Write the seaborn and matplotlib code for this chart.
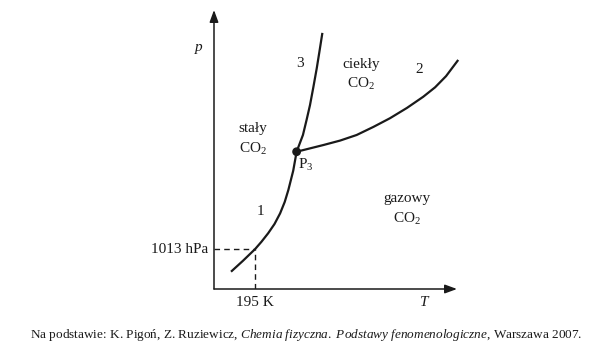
import matplotlib
matplotlib.use("Agg")
import matplotlib.pyplot as plt
import seaborn as sns
import pandas as pd

# ---- data (schematic units, 0-100 on both axes) ----
sub_T = [7.0, 11.9, 16.9, 19.5, 22.3, 24.9, 27.2, 29.1, 30.6, 32.6, 34.0]
sub_p = [6.2, 10.1, 14.3, 16.9, 20.0, 23.3, 27.1, 31.2, 35.5, 42.4, 49.2]

melt_T = [34.0, 36.6, 38.1, 39.5, 40.9, 42.3, 43.5, 44.6]
melt_p = [49.2, 55.2, 60.6, 65.9, 72.4, 79.2, 85.7, 91.8]

vap_T = [34.0, 45.0, 51.9, 58.7, 65.6, 72.4, 79.4, 86.1, 91.0, 95.5, 100.5]
vap_p = [49.2, 51.6, 53.2, 55.2, 58.1, 61.2, 64.9, 68.9, 72.3, 76.3, 82.1]

triple_T = [34.0]
triple_p = [49.2]

ref_T = 16.9
ref_p = 14.3

sns.set_theme(style="white")
plt.rcParams['font.family'] = ['Liberation Serif', 'DejaVu Serif']
plt.rcParams['mathtext.fontset'] = 'custom'
plt.rcParams['mathtext.rm'] = 'Liberation Serif'
plt.rcParams['mathtext.it'] = 'Liberation Serif:italic'

fig = plt.figure(figsize=(6.0, 3.53), dpi=100)
ax = fig.add_axes([214/600, 64/353, 243/600, 279/353])
ax.set_xlim(0, 100)
ax.set_ylim(0, 100)
ax.axis('off')

lw = 1.6
for T, p in [(sub_T, sub_p), (melt_T, melt_p), (vap_T, vap_p)]:
    df = pd.DataFrame({'T': T, 'p': p})
    sns.lineplot(data=df, x='T', y='p', sort=False, estimator=None,
                 color='#1a1a1a', linewidth=lw, ax=ax, clip_on=False,
                 solid_joinstyle='round', solid_capstyle='butt')

sns.scatterplot(x=triple_T, y=triple_p, color='#1a1a1a', s=40, ax=ax,
                edgecolor='none', zorder=5, clip_on=False)

# dashed reference lines
ax.plot([0, ref_T], [ref_p, ref_p], color='#1a1a1a', lw=1.0, ls=(0, (4, 3)))
ax.plot([ref_T, ref_T], [0, ref_p], color='#1a1a1a', lw=1.0, ls=(0, (4, 3)))

# axes arrows
arr = dict(arrowstyle='-|>,head_length=0.6,head_width=0.22', color='#1a1a1a', lw=1.1,
           shrinkA=0, shrinkB=0)
ax.annotate('', xy=(0, 1), xytext=(0, 0), xycoords='axes fraction', arrowprops=arr)
ax.annotate('', xy=(1, 0), xytext=(0, 0), xycoords='axes fraction', arrowprops=arr)

fs = 11
tc = '#1a1a1a'
kw = dict(fontsize=fs, color=tc, ha='center', va='center', clip_on=False)
ax.text(-6.2, 86.7, 'p', fontstyle='italic', **kw)
ax.text(86.4, -5.0, 'T', fontstyle='italic', **kw)
ax.text(ref_T, -5.0, '195 K', **kw)
ax.text(-2.5, ref_p, '1013 hPa', fontsize=fs, color=tc, ha='right', va='center')
ax.text(35.4, 81.0, '3', **kw)
ax.text(60.5, 80.3, 'ciekły', **kw)
ax.text(60.5, 73.6, r'CO$_2$', **kw)
ax.text(84.4, 78.5, '2', **kw)
ax.text(16.0, 57.7, 'stały', **kw)
ax.text(16.0, 50.3, r'CO$_2$', **kw)
ax.text(34.6, 44.6, r'P$_3$', fontsize=fs, color=tc, ha='left', va='center')
ax.text(19.3, 27.6, '1', **kw)
ax.text(79.4, 32.3, 'gazowy', **kw)
ax.text(79.4, 25.2, r'CO$_2$', **kw)

fig.text(30/600, 1 - 335/353,
         r'Na podstawie: K. Pigoń, Z. Ruziewicz, $\mathit{Chemia\ fizyczna.\ Podstawy\ fenomenologiczne}$, Warszawa 2007.',
         fontsize=9.5, color=tc, ha='left', va='center')

fig.savefig('out.png', dpi=100, facecolor='white')
